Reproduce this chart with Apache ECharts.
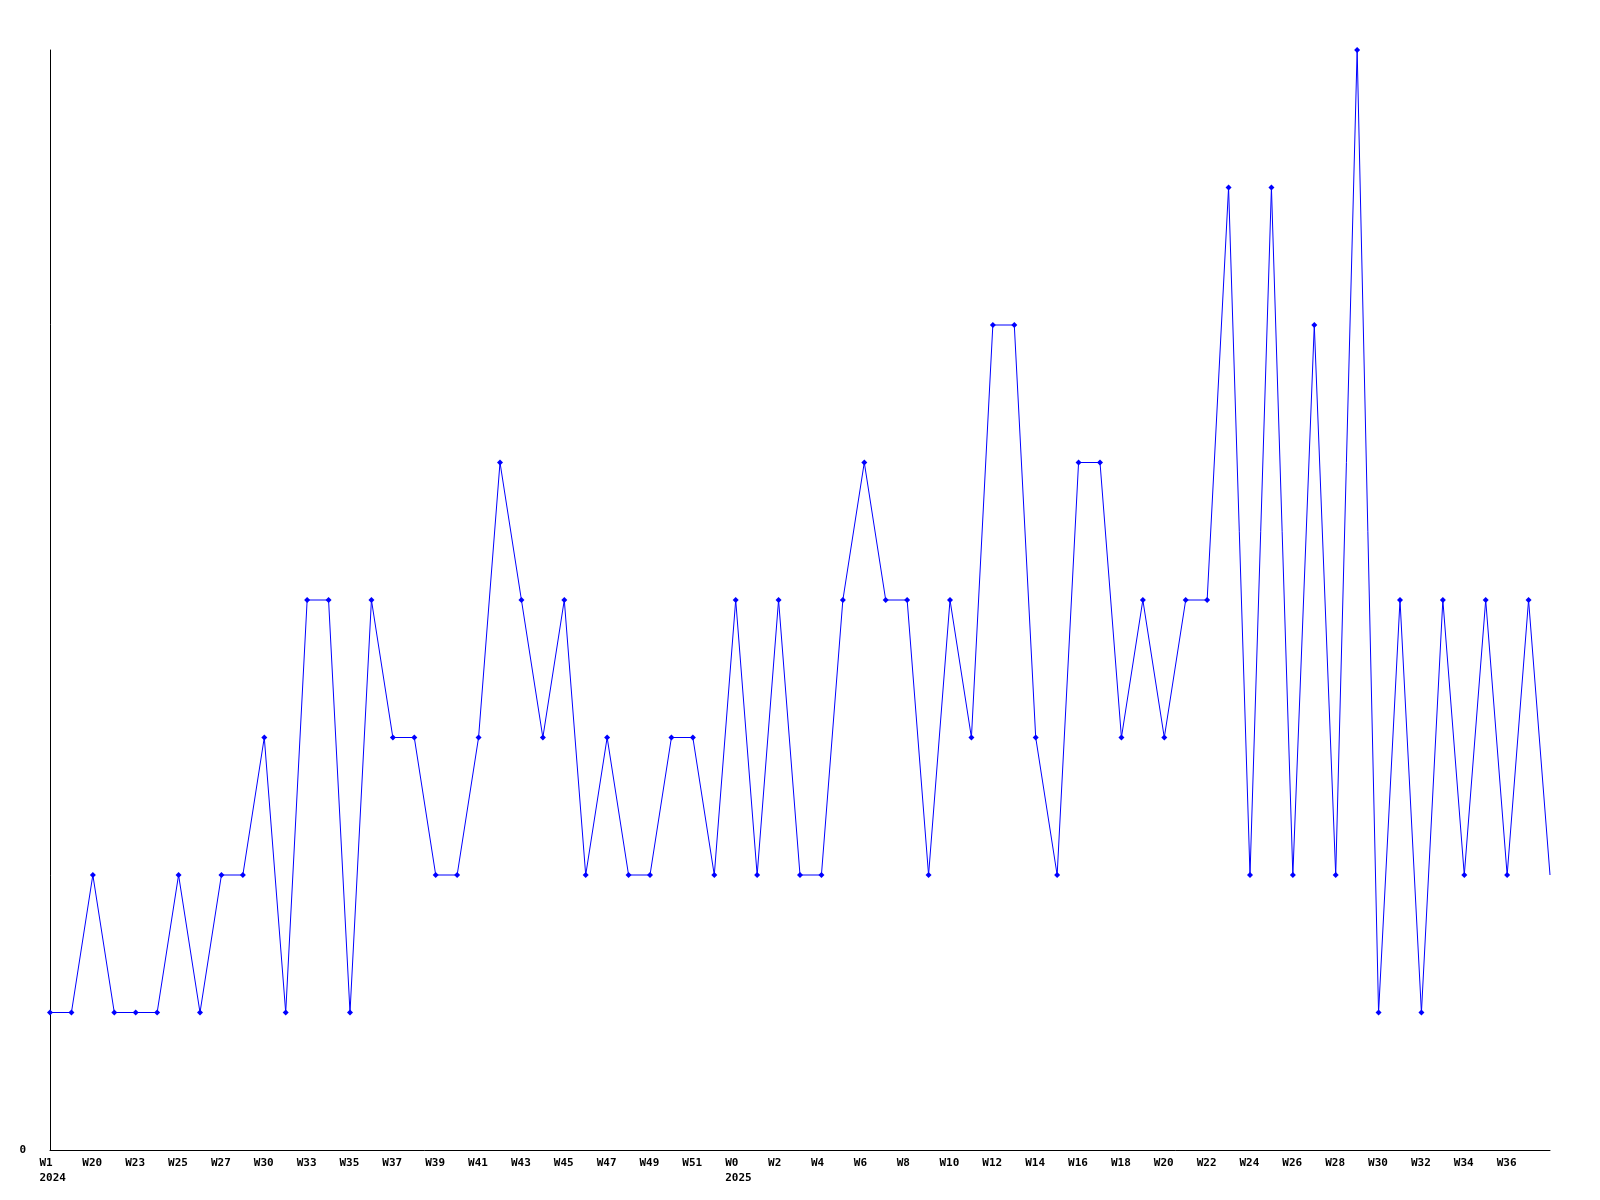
<!DOCTYPE html>
<html>
<head>
<meta charset="utf-8">
<script src="https://cdn.jsdelivr.net/npm/echarts@6/dist/echarts.min.js"></script>
<style>html,body{margin:0;padding:0;background:#fff;}#c{width:1600px;height:1200px;}</style>
</head>
<body>
<div id="c"></div>
<script>
const categories = [
  'W1\n2024','W19','W20','W22','W23','W24','W25','W26','W27','W29','W30','W32','W33','W34','W35','W36',
  'W37','W38','W39','W40','W41','W42','W43','W44','W45','W46','W47','W48','W49','W50','W51','W52',
  'W0\n2025','W1','W2','W3','W4','W5','W6','W7','W8','W9','W10','W11','W12','W13','W14','W15',
  'W16','W17','W18','W19','W20','W21','W22','W23','W24','W25','W26','W27','W28','W29','W30','W31',
  'W32','W33','W34','W35','W36','W37','W38'
];
const values = [
  1,1,2,1,1,1,2,1,2,2,3,1,4,4,1,4,
  3,3,2,2,3,5,4,3,4,2,3,2,2,3,3,2,
  4,2,4,2,2,4,5,4,4,2,4,3,6,6,3,2,
  5,5,3,4,3,4,4,7,2,7,2,6,2,8,1,4,
  1,4,2,4,2,4,2
];
const yMin = 0, yMax = 8;

const chart = echarts.init(document.getElementById('c'), null, {renderer: 'canvas'});
const lastIdx = values.length - 1;
chart.setOption({
  animation: false,
  backgroundColor: '#ffffff',
  grid: {left: 50, right: 50, top: 50, bottom: 50, containLabel: false},
  xAxis: {
    type: 'category',
    data: categories,
    boundaryGap: false,
    axisLine: {lineStyle: {color: '#000', width: 1}},
    axisTick: {show: false},
    splitLine: {show: false},
    axisLabel: {
      interval: function (i) { return i % 2 === 0 && i < lastIdx; },
      margin: 6,
      formatter: function (v) {
        return v.split('\n').map(function (s) { return '{a|' + s + '}'; }).join('\n');
      },
      rich: {
        a: {
          width: 21, align: 'left', lineHeight: 15,
          fontFamily: 'DejaVu Sans Mono', fontWeight: 'bold', fontSize: 11, color: '#000'
        }
      }
    }
  },
  yAxis: {
    type: 'value',
    min: yMin, max: yMax, interval: 8,
    axisLine: {show: true, lineStyle: {color: '#000', width: 1}},
    axisTick: {show: false},
    splitLine: {show: false},
    axisLabel: {
      showMaxLabel: false,
      margin: 24,
      fontFamily: 'DejaVu Sans Mono', fontWeight: 'bold', fontSize: 11, color: '#000'
    }
  },
  series: [{
    type: 'line',
    data: values.map(function (v, i) { return i === lastIdx ? {value: v, symbol: 'none'} : v; }),
    symbol: 'diamond',
    symbolSize: 6,
    showAllSymbol: true,
    lineStyle: {color: '#0000ff', width: 1},
    itemStyle: {color: '#0000ff'},
    emphasis: {disabled: true}
  }]
});
</script>
</body>
</html>
